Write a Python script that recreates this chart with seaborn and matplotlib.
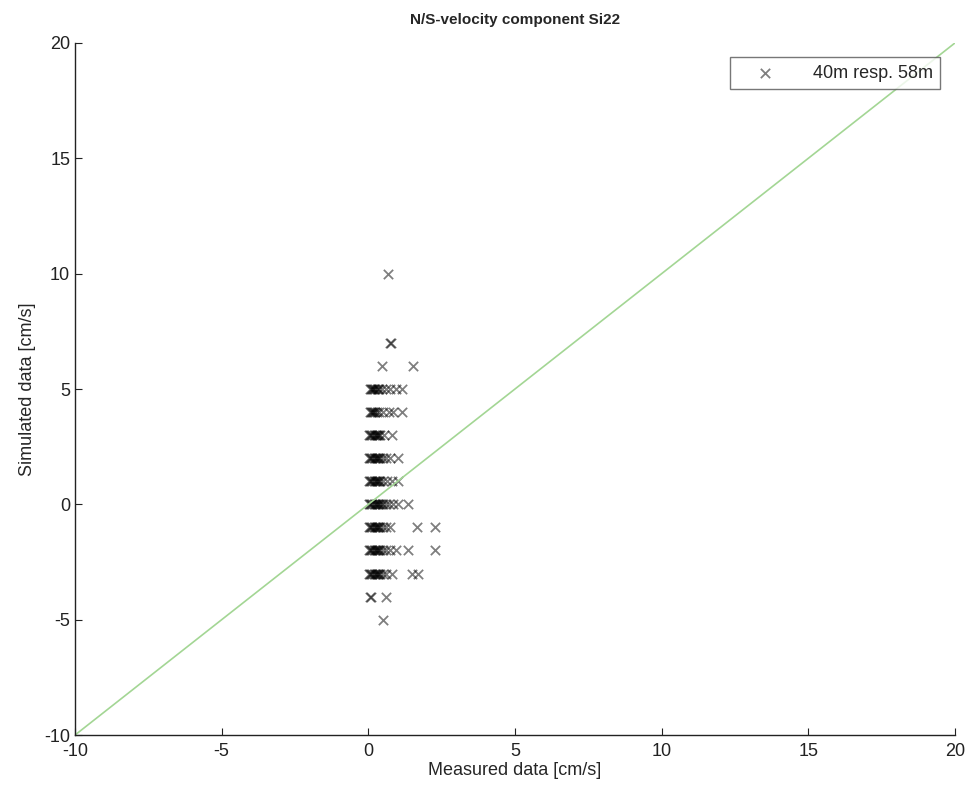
import matplotlib
matplotlib.use("Agg")
import matplotlib.pyplot as plt
import seaborn as sns
import numpy as np
import pandas as pd

sns.set_style("white")
plt.rcParams['font.family'] = ['Liberation Sans', 'DejaVu Sans']
plt.rcParams['axes.unicode_minus'] = False

title = "N/S-velocity component Si22"
xlabel = "Measured data [cm/s]"
ylabel = "Simulated data [cm/s]"
legend_label = "40m resp. 58m"
ticks = [-10, -5, 0, 5, 10, 15, 20]

# measured (x) values at each simulated (y) level
pts = {
    10: [0.68],
    7: [0.75, 0.78],
    6: [0.48, 1.53],
    5: [0.05, 0.08, 0.12, 0.16, 0.2, 0.24, 0.28, 0.32, 0.36, 0.45, 0.6, 0.75, 0.95, 1.15],
    4: [0.05, 0.08, 0.12, 0.16, 0.2, 0.24, 0.28, 0.35, 0.5, 0.7, 0.85, 1.15],
    3: [0.03, 0.06, 0.1, 0.14, 0.18, 0.22, 0.25, 0.29, 0.32, 0.36, 0.4, 0.55, 0.8],
    2: [0.03, 0.06, 0.1, 0.14, 0.18, 0.22, 0.25, 0.29, 0.32, 0.36, 0.4, 0.5, 0.6, 0.75, 1.0],
    1: [0.03, 0.06, 0.1, 0.14, 0.18, 0.22, 0.25, 0.29, 0.32, 0.36, 0.4, 0.5, 0.65, 0.8, 1.0],
    0: [0.03, 0.06, 0.1, 0.14, 0.18, 0.22, 0.25, 0.29, 0.32, 0.36, 0.4, 0.45, 0.5, 0.6, 0.72, 0.85, 1.0, 1.35],
    -1: [0.03, 0.06, 0.1, 0.14, 0.18, 0.22, 0.25, 0.29, 0.32, 0.36, 0.4, 0.5, 0.6, 0.75, 1.67, 2.28],
    -2: [0.03, 0.06, 0.1, 0.14, 0.18, 0.22, 0.25, 0.29, 0.32, 0.36, 0.4, 0.5, 0.6, 0.75, 0.95, 1.36, 2.28],
    -3: [0.03, 0.06, 0.1, 0.14, 0.18, 0.22, 0.25, 0.29, 0.32, 0.36, 0.4, 0.5, 0.6, 0.8, 1.5, 1.7],
    -4: [0.05, 0.08, 0.6],
    -5: [0.5],
}
measured = [x for yv, xs in pts.items() for x in xs]
simulated = [yv for yv, xs in pts.items() for x in xs]
df = pd.DataFrame({"measured": measured, "simulated": simulated})

fig = plt.figure(figsize=(9.68, 7.93), dpi=100)
ax = fig.add_axes([0.0775, 0.0731, 0.909, 0.8727])

line_x = [-10, 20]
sns.lineplot(x=line_x, y=line_x, color="#a3d694", linewidth=1.2, ax=ax)
sns.scatterplot(data=df, x="measured", y="simulated", marker="x", color="#000000",
                s=45, linewidth=1.3, alpha=0.5, ax=ax, label=legend_label)

ax.set_xlim(-10, 20)
ax.set_ylim(-10, 20)
ax.set_xticks(ticks)
ax.set_yticks(ticks)
ax.tick_params(direction="in", length=5, labelsize=13, colors="#222222", left=True, bottom=True)
ax.tick_params(axis="x", pad=6)
for s in ["top", "right"]:
    ax.spines[s].set_visible(False)
for s in ["left", "bottom"]:
    ax.spines[s].set_color("#222222")
    ax.spines[s].set_linewidth(1.0)
ax.set_xlabel(xlabel, fontsize=13, labelpad=1)
ax.set_ylabel(ylabel, fontsize=13, labelpad=6)
ax.set_title(title, fontsize=11, fontweight="bold", pad=14)

leg = ax.legend(loc="upper right", fontsize=13, frameon=True, fancybox=False,
                edgecolor="#555555", borderaxespad=0.8, handlelength=3.0,
                handletextpad=1.2, borderpad=0.4)
leg.get_frame().set_linewidth(1.0)

fig.savefig("out.png", dpi=100)
